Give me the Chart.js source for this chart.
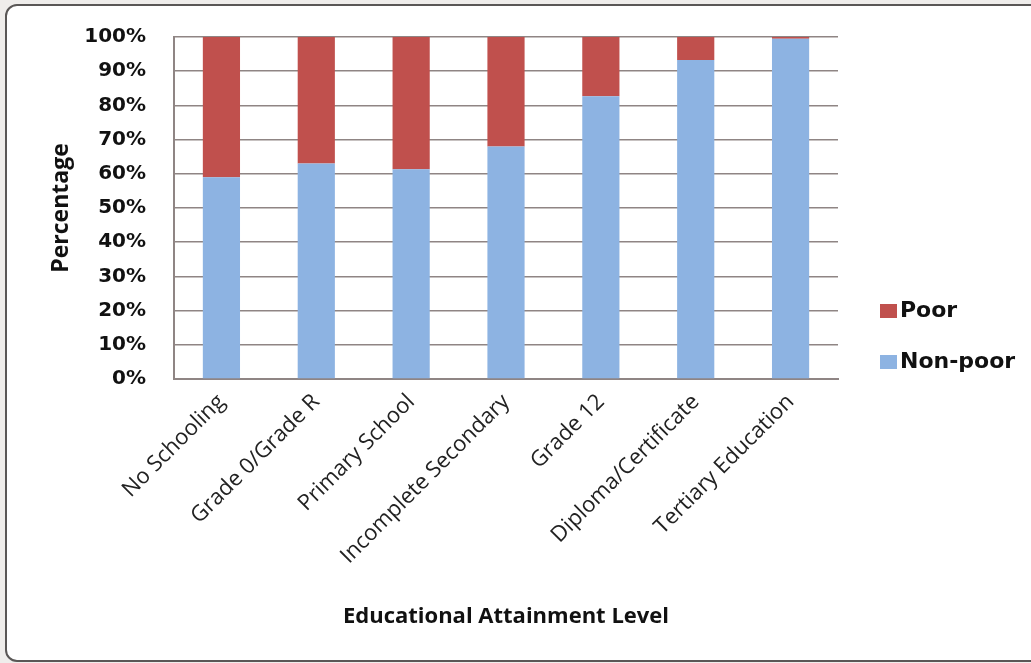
<!DOCTYPE html>
<html lang="en">
<head>
  <meta charset="UTF-8">
  <title>Educational Attainment Level</title>
  <script src="https://cdn.jsdelivr.net/npm/chart.js"></script>
  <style>
    html, body { margin: 0; padding: 0; background: #efedeb; }
    #frame {
      position: absolute; left: 5px; top: 4px; width: 1060px; height: 654px;
      border: 2px solid #5a5756; border-radius: 12px; background: #fff;
    }
    #wrap { position: absolute; left: 0; top: 0; width: 1031px; height: 663px; }
  </style>
</head>
<body>
<div id="frame"></div>
<div id="wrap"><canvas id="grafico" width="1031" height="663"></canvas></div>
<script>
// dados
const categorias = ['No Schooling', 'Grade 0/Grade R', 'Primary School', 'Incomplete Secondary',
                    'Grade 12', 'Diploma/Certificate', 'Tertiary Education'];
const naoPobres = [59, 63, 61.3, 68, 82.7, 93.3, 99.5];
const pobres = [41, 37, 38.7, 32, 17.3, 6.7, 0.5];
const ticksY = [0, 10, 20, 30, 40, 50, 60, 70, 80, 90, 100];

const corGrade = '#8f8584';

// legenda desenhada a mao, ao lado direito do grafico
const legendaPlugin = {
  id: 'legendaDireita',
  afterDraw(chart) {
    const ctx = chart.ctx;
    const area = chart.chartArea;
    const itens = [chart.data.datasets[1], chart.data.datasets[0]];
    ctx.save();
    ctx.font = 'bold 22px "DejaVu Sans"';
    ctx.textBaseline = 'middle';
    itens.forEach((ds, i) => {
      const y = area.top + 274 + i * 51;
      ctx.fillStyle = ds.backgroundColor;
      ctx.fillRect(area.right + 42, y - 7, 17, 14);
      ctx.fillStyle = '#111';
      ctx.fillText(ds.label, area.right + 62, y);
    });
    ctx.restore();
  }
};

const config = {
  type: 'bar',
  data: {
    labels: categorias,
    datasets: [
      { label: 'Non-poor', data: naoPobres, backgroundColor: '#8db3e2' },
      { label: 'Poor', data: pobres, backgroundColor: '#c0504d' }
    ]
  },
  options: {
    responsive: false,
    animation: false,
    layout: { padding: { left: 0, top: 37, right: 193, bottom: 0 } },
    datasets: { bar: { categoryPercentage: 0.8, barPercentage: 0.49 } },
    plugins: { legend: { display: false }, tooltip: { enabled: false } },
    scales: {
      x: {
        stacked: true,
        grid: { display: false },
        border: { display: true, color: corGrade, width: 2 },
        ticks: {
          autoSkip: false, minRotation: 45, maxRotation: 45, padding: 2,
          color: '#222', font: { family: '"Open Sans"', size: 22 }
        },
        title: {
          display: true, text: 'Educational Attainment Level', color: '#111',
          font: { family: '"Open Sans"', size: 22, weight: 'bold' },
          padding: { top: 0, bottom: 33 }
        },
        afterFit(scale) { scale.height = 663 - 379; }
      },
      y: {
        stacked: true,
        min: 0, max: 100,
        afterBuildTicks(scale) { scale.ticks = ticksY.map(v => ({ value: v })); },
        grid: { color: corGrade, lineWidth: 1.6, drawTicks: false },
        border: { display: true, color: corGrade, width: 2 },
        ticks: {
          padding: 28, color: '#111',
          font: { family: '"DejaVu Sans"', size: 20, weight: 'bold' },
          callback: v => v + '%'
        },
        title: {
          display: true, text: 'Percentage', color: '#111',
          font: { family: '"Open Sans"', size: 23, weight: 'bold' },
          padding: { top: 48, bottom: 0 }
        },
        afterFit(scale) {
          scale.width = 174;
          // o padding dos ticks nao deve empurrar a area do grafico
          scale.paddingTop = 0;
          scale.paddingBottom = 0;
        }
      }
    }
  },
  plugins: [legendaPlugin]
};

let myChart = new Chart(document.getElementById('grafico'), config);
</script>
</body>
</html>
